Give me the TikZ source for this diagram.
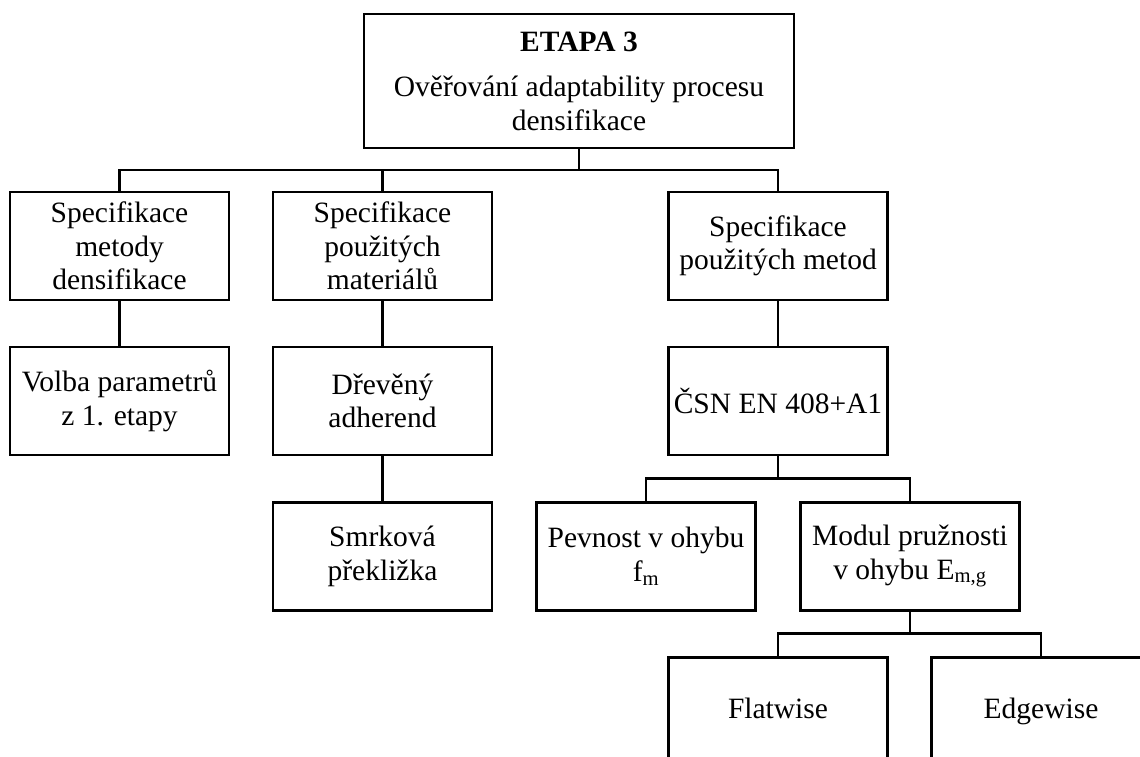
\documentclass[tikz,border=0pt]{standalone}
\usepackage{fontspec}
\setmainfont{Liberation Serif}
\usetikzlibrary{positioning,calc}

\begin{document}
\begin{tikzpicture}[x=1pt,y=-1pt]
	\tikzset{
	  basic/.style  = {draw, line width=2.6pt, rectangle, align=center, inner sep=0pt,
	                   font=\fontsize{29.5}{33.5}\selectfont},
	  root/.style   = {basic, minimum width=430pt, minimum height=134pt},
	  level 2/.style = {basic, minimum width=219pt, minimum height=108pt},
	  link/.style   = {draw, line width=2.6pt},
	  node distance = 44.5pt
	}
	\useasboundingbox (0,0) rectangle (1140,757);
	\clip (0,0) rectangle (1140,757);

	\node[root] (root) at (579,81) {\textbf{ETAPA 3}\\[12pt]Ověřování adaptability procesu\\densifikace};
	% The first level
	\node[level 2] (s1) at (119.5,246) {Specifikace\\metody\\densifikace};
	\node[level 2] (s2) at (382.5,246) {Specifikace\\použitých\\materiálů};
	\node[level 2] (s3) at (778,246) {Specifikace\\použitých metod};
	% The second level
	\node[level 2, below=of s1] (volba) {Volba parametrů\\z 1. etapy};
	\node[level 2, below=of s2] (drev) {Dřevěný\\adherend};
	\node[level 2, below=of s3] (csn) {ČSN EN 408+A1};
	% The third level
	\node[level 2, below=of drev] (smrk) {Smrková\\překližka};
	\node[level 2, below=of csn, xshift=-132pt] (pev) {Pevnost v ohybu\\f\textsubscript{m}};
	\node[level 2, below=of csn, xshift=132pt] (mod) {Modul pružnosti\\v ohybu E\textsubscript{m,g}};
	% The fourth level
	\node[level 2, below=of mod, xshift=-132pt] (flat) {\strut Flatwise};
	\node[level 2, below=of mod, xshift=131pt] (edg) {\strut Edgewise};

	% connectors
	\coordinate (b1) at ($(root.south)!.5!(root.south |- s1.north)$);
	\coordinate (b2) at ($(csn.south)!.5!(csn.south |- pev.north)$);
	\coordinate (b3) at ($(mod.south)!.5!(mod.south |- flat.north)$);
	\draw[link] (root.south) -- (b1);
	\draw[link] (s1.north) |- (b1) -| (s3.north);
	\draw[link] (s2.north) -- (s2.north |- b1);
	\draw[link] (s1) -- (volba);
	\draw[link] (s2) -- (drev);
	\draw[link] (drev) -- (smrk);
	\draw[link] (s3) -- (csn);
	\draw[link] (csn.south) -- (b2);
	\draw[link] (pev.north) |- (b2) -| (mod.north);
	\draw[link] (mod.south) -- (b3);
	\draw[link] (flat.north) |- (b3) -| (edg.north);
\end{tikzpicture}
\end{document}
